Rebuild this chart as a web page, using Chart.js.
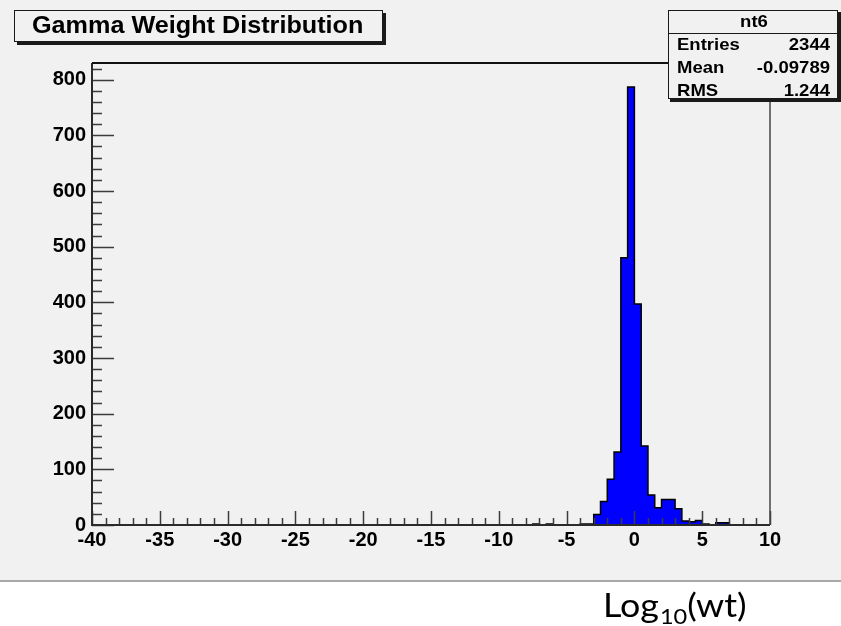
<!DOCTYPE html>
<html><head><meta charset="utf-8">
<script src="https://cdn.jsdelivr.net/npm/chart.js@4/dist/chart.umd.min.js"></script>
<style>html,body{margin:0;padding:0;background:#fff;} canvas{display:block;}</style>
</head><body>
<canvas id="c" width="841" height="626"></canvas>
<script>
// ---- data ----
const chartTitle = 'Gamma Weight Distribution';
const statsName = 'nt6';
const statsLabels = ['Entries', 'Mean', 'RMS'];
const statsValues = ['2344', '-0.09789', '1.244'];
const xAxisTitleParts = ['Log', '10', '(wt)'];
const binWidth = 0.5;
const binLowEdges = [-7.5, -6.5, -4, -3.5, -3, -2.5, -2, -1.5, -1, -0.5, 0, 0.5, 1, 1.5, 2, 2.5, 3, 3.5, 4, 4.5, 5, 6, 6.5];
const binCounts   = [2, 2, 2, 2, 19, 42, 82, 131, 480, 787, 397, 142, 54, 31, 46, 46, 29, 7, 6, 8, 2, 4, 4];
const xTickLabels = [-40, -35, -30, -25, -20, -15, -10, -5, 0, 5, 10];
const yTickLabels = [0, 100, 200, 300, 400, 500, 600, 700, 800];
const xRange = [-40, 10];
const yRange = [0, 830];
const xMinorStep = 1;
const yMinorStep = 20;

// histogram outline points (step-before)
const histPoints = [{x: xRange[0], y: 0}];
binLowEdges.forEach((lo, i) => {
  histPoints.push({x: lo, y: binCounts[i]});
  const hi = lo + binWidth;
  if (binLowEdges[i + 1] !== hi) histPoints.push({x: hi, y: 0});
});
histPoints.push({x: xRange[1], y: 0});

const BG = '#f1f1f1';
const AX = '#2a2a2a';

function fitText(ctx, text, x, y, font, sx, align) {
  ctx.save();
  ctx.font = font;
  const w = ctx.measureText(text).width * sx;
  let left = x;
  if (align === 'right') left = x - w;
  else if (align === 'center') left = x - w / 2;
  ctx.translate(left, y);
  ctx.scale(sx, 1);
  ctx.textAlign = 'left';
  ctx.textBaseline = 'alphabetic';
  ctx.fillText(text, 0, 0);
  ctx.restore();
  return w;
}

const backgroundPlugin = {
  id: 'bg',
  beforeDraw(chart) {
    const ctx = chart.ctx;
    ctx.save();
    ctx.fillStyle = '#ffffff';
    ctx.fillRect(0, 0, chart.width, chart.height);
    ctx.fillStyle = BG;
    ctx.fillRect(0, 0, chart.width, 580);
    ctx.fillStyle = '#a8a8a8';
    ctx.fillRect(0, 580, chart.width, 2);
    ctx.restore();
  }
};

const framePlugin = {
  id: 'frame',
  afterDatasetsDraw(chart) {
    const ctx = chart.ctx, a = chart.chartArea, xs = chart.scales.x, ys = chart.scales.y;
    ctx.save();
    ctx.strokeStyle = '#3c3c3c';
    ctx.lineWidth = 1.5;
    ctx.beginPath();
    for (let v = xRange[0]; v <= xRange[1]; v += xMinorStep) {
      const len = xTickLabels.includes(v) ? 14 : 7;
      const px = Math.round(xs.getPixelForValue(v)) + 0.5;
      ctx.moveTo(px, a.bottom);
      ctx.lineTo(px, a.bottom - len);
    }
    for (let v = yRange[0]; v <= yRange[1]; v += yMinorStep) {
      const len = yTickLabels.includes(v) ? 22 : 10;
      const py = Math.round(ys.getPixelForValue(v)) + 0.5;
      ctx.moveTo(a.left, py);
      ctx.lineTo(a.left + len, py);
    }
    ctx.stroke();
    ctx.strokeStyle = AX;
    ctx.lineWidth = 2;
    ctx.beginPath();
    ctx.moveTo(a.left, a.top); ctx.lineTo(a.left, a.bottom); ctx.lineTo(a.right, a.bottom);
    ctx.stroke();
    ctx.strokeStyle = '#111';
    ctx.beginPath();
    ctx.moveTo(a.left, a.top); ctx.lineTo(a.right, a.top);
    ctx.stroke();
    ctx.strokeStyle = '#444';
    ctx.lineWidth = 1.5;
    ctx.beginPath();
    ctx.moveTo(a.right, a.top); ctx.lineTo(a.right, a.bottom);
    ctx.stroke();
    ctx.restore();
  },
  afterDraw(chart) {
    const ctx = chart.ctx;
    ctx.save();
    // title box
    ctx.fillStyle = '#1a1a1a';
    ctx.fillRect(17, 13, 369, 32);
    ctx.fillStyle = BG;
    ctx.fillRect(14, 10, 369, 32);
    ctx.strokeStyle = '#1a1a1a';
    ctx.lineWidth = 1;
    ctx.strokeRect(14.5, 10.5, 368, 31);
    ctx.fillStyle = '#000';
    fitText(ctx, chartTitle, 32, 33, 'bold 24px "Liberation Sans", Arial, sans-serif', 1.05, 'left');

    // stats box
    ctx.fillStyle = '#1a1a1a';
    ctx.fillRect(670, 12, 171, 90);
    ctx.fillStyle = BG;
    ctx.fillRect(668, 10, 170, 89);
    ctx.strokeStyle = '#1a1a1a';
    ctx.strokeRect(668.5, 10.5, 169, 88);
    ctx.beginPath();
    ctx.moveTo(668, 33.5); ctx.lineTo(838, 33.5);
    ctx.stroke();
    ctx.fillStyle = '#000';
    const sf = 'bold 17px "Liberation Sans", Arial, sans-serif';
    fitText(ctx, statsName, 754, 27, sf, 1.09, 'center');
    statsLabels.forEach((lab, i) => {
      const by = 50 + i * 23;
      fitText(ctx, lab, 677, by, sf, 1.09, 'left');
      fitText(ctx, statsValues[i], 830, by, sf, 1.09, 'right');
    });

    // x axis title below the frame: Log_10(wt)
    ctx.fillStyle = '#000';
    const bf = '32px Lato, "Open Sans", sans-serif';
    const sub = '21px Lato, "Open Sans", sans-serif';
    let x = 603;
    x += fitText(ctx, xAxisTitleParts[0], x, 617, bf, 1.12, 'left');
    x += 1;
    x += fitText(ctx, xAxisTitleParts[1], x, 624, sub, 1.12, 'left');
    fitText(ctx, xAxisTitleParts[2], x, 617, bf, 1.12, 'left');
    ctx.restore();
  }
};

Chart.defaults.font.family = '"Liberation Sans", Arial, sans-serif';

new Chart(document.getElementById('c'), {
  type: 'line',
  data: {
    datasets: [{
      data: histPoints,
      stepped: 'before',
      borderColor: '#000',
      borderWidth: 1.5,
      backgroundColor: '#0000ff',
      fill: 'origin',
      pointRadius: 0,
      tension: 0
    }]
  },
  options: {
    responsive: false,
    animation: false,
    devicePixelRatio: 1,
    layout: { padding: { left: 0, right: 71, top: 63, bottom: 0 } },
    plugins: { legend: { display: false }, tooltip: { enabled: false }, title: { display: false } },
    scales: {
      x: {
        type: 'linear',
        min: xRange[0], max: xRange[1],
        grid: { display: false, drawTicks: false, tickLength: 0 },
        border: { display: false },
        ticks: {
          stepSize: 5,
          includeBounds: false,
          padding: 3,
          color: '#000',
          font: { size: 20, weight: 'bold' },
          maxRotation: 0,
          autoSkip: false,
          callback: (v) => xTickLabels.includes(v) ? String(v) : ''
        },
        afterFit: (s) => { s.height = 101; }
      },
      y: {
        type: 'linear',
        min: yRange[0], max: yRange[1],
        grid: { display: false, drawTicks: false, tickLength: 0 },
        border: { display: false },
        ticks: {
          stepSize: 100,
          includeBounds: false,
          padding: 6,
          color: '#000',
          font: { size: 20, weight: 'bold' },
          callback: (v) => yTickLabels.includes(v) ? String(v) : ''
        },
        afterFit: (s) => { s.width = 92; }
      }
    }
  },
  plugins: [backgroundPlugin, framePlugin]
});
</script>
</body></html>
